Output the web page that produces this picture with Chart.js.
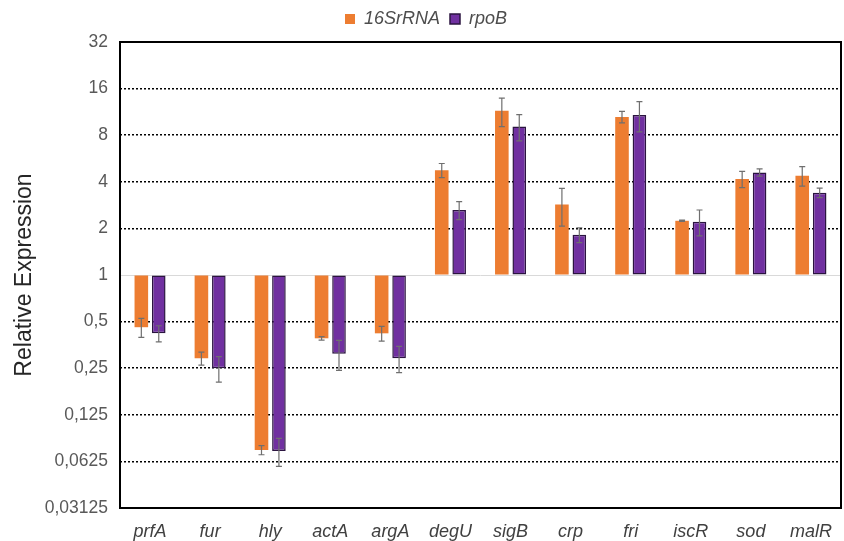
<!DOCTYPE html>
<html>
<head>
<meta charset="utf-8">
<script src="https://cdn.jsdelivr.net/npm/chart.js@4.4.1/dist/chart.umd.min.js"></script>
<style>
  html, body { margin: 0; padding: 0; background: #fff; }
  #wrap { width: 844px; height: 541px; }
</style>
</head>
<body>
<div id="wrap"><canvas id="myChart" width="844" height="541"></canvas></div>
<script>
// genes on the x axis
const genes = ['prfA', 'fur', 'hly', 'actA', 'argA', 'degU', 'sigB', 'crp', 'fri', 'iscR', 'sod', 'malR'];

// relative expression normalised to 16SrRNA / rpoB
const rrna = [0.46, 0.29, 0.074, 0.39, 0.42, 4.75, 11.5, 2.85, 10.5, 2.24, 4.17, 4.38];
const rrnaSd = [0.065, 0.028, 0.005, 0.01, 0.046, 0.5, 2.4, 0.78, 0.9, 0.02, 0.5, 0.63];
const rpob = [0.42, 0.25, 0.073, 0.31, 0.29, 2.63, 9.1, 1.82, 10.8, 2.21, 4.6, 3.4];
const rpobSd = [0.05, 0.047, 0.015, 0.068, 0.056, 0.35, 1.75, 0.2, 2.4, 0.42, 0.25, 0.24];

// y ticks are powers of two, 2^-5 .. 2^5
const yTicks = [0.03125, 0.0625, 0.125, 0.25, 0.5, 1, 2, 4, 8, 16, 32];

const log2 = v => Math.log2(v);
const fmt = v => String(v).replace('.', ',');

// error bars drawn on top of the bars
const errorBars = {
  id: 'errorBars',
  afterDatasetsDraw(chart) {
    const ctx = chart.ctx;
    const y = chart.scales.y;
    chart.data.datasets.forEach((ds, i) => {
      const meta = chart.getDatasetMeta(i);
      meta.data.forEach((bar, j) => {
        const v = ds.raw[j], sd = ds.sd[j];
        const top = y.getPixelForValue(log2(v + sd));
        const bot = y.getPixelForValue(log2(Math.max(v - sd, 0.001)));
        ctx.save();
        ctx.strokeStyle = '#6f6f6f';
        ctx.lineWidth = 1.2;
        ctx.beginPath();
        ctx.moveTo(bar.x, top); ctx.lineTo(bar.x, bot);
        ctx.moveTo(bar.x - 3, top); ctx.lineTo(bar.x + 3, top);
        ctx.moveTo(bar.x - 3, bot); ctx.lineTo(bar.x + 3, bot);
        ctx.stroke();
        ctx.restore();
      });
    });
  }
};

// black frame round the plot area
const frame = {
  id: 'frame',
  afterDraw(chart) {
    const a = chart.chartArea, ctx = chart.ctx;
    ctx.save();
    ctx.strokeStyle = '#000';
    ctx.lineWidth = 2;
    ctx.strokeRect(a.left, a.top, a.right - a.left, a.bottom - a.top);
    ctx.restore();
  }
};

// keep the legend band a fixed height so the plot starts at the same place
const legendHeight = {
  id: 'legendHeight',
  beforeUpdate(chart) {
    const lg = chart.legend;
    if (lg && !lg._fixed) {
      const fit = lg.fit;
      lg.fit = function () { fit.call(this); this.height = 42; };
      lg._fixed = true;
    }
  }
};

const ctx = document.getElementById('myChart');

new Chart(ctx, {
  type: 'bar',
  data: {
    labels: genes,
    datasets: [{
      label: '16SrRNA',
      data: rrna.map(log2),
      raw: rrna,
      sd: rrnaSd,
      backgroundColor: '#ED7D31',
      borderWidth: 0
    }, {
      label: 'rpoB',
      data: rpob.map(log2),
      raw: rpob,
      sd: rpobSd,
      backgroundColor: '#7030A0',
      borderColor: '#2b1440',
      borderWidth: 1.5,
      borderSkipped: false
    }]
  },
  plugins: [errorBars, frame, legendHeight],
  options: {
    responsive: false,
    devicePixelRatio: 1,
    animation: false,
    datasets: {
      bar: { categoryPercentage: 0.58, barPercentage: 0.78 }
    },
    layout: { padding: { left: 11, right: 3, top: 0, bottom: 0 } },
    plugins: {
      tooltip: { enabled: false },
      legend: {
        position: 'top',
        labels: {
          boxWidth: 10,
          boxHeight: 10,
          padding: 10,
          color: '#4d4d4d',
          font: { family: 'Arial, "Liberation Sans"', size: 18, style: 'italic' }
        }
      }
    },
    scales: {
      x: {
        grid: { display: false },
        border: { display: false },
        ticks: {
          color: '#404040',
          padding: 5,
          font: { family: 'Arial, "Liberation Sans"', size: 18, style: 'italic' }
        },
        afterFit: s => { s.height = 33; }
      },
      y: {
        min: -5,
        max: 5,
        afterBuildTicks: s => { s.ticks = yTicks.map(v => ({ value: log2(v) })); },
        ticks: {
          color: '#595959',
          padding: 12,
          font: { family: 'Arial, "Liberation Sans"', size: 17.5 },
          callback: v => fmt(Math.pow(2, v))
        },
        grid: {
          drawTicks: false,
          color: c => c.tick && c.tick.value === 0 ? '#d9d9d9' : '#000',
          lineWidth: c => c.tick && c.tick.value === 0 ? 1 : 1.5
        },
        border: {
          display: false,
          dash: c => c.tick && c.tick.value === 0 ? [] : [2, 2]
        },
        title: {
          display: true,
          text: 'Relative Expression',
          color: '#262626',
          padding: 0,
          font: { family: 'Arial, "Liberation Sans"', size: 23 }
        },
        afterFit: s => { s.width = 109; }
      }
    }
  }
});
</script>
</body>
</html>
